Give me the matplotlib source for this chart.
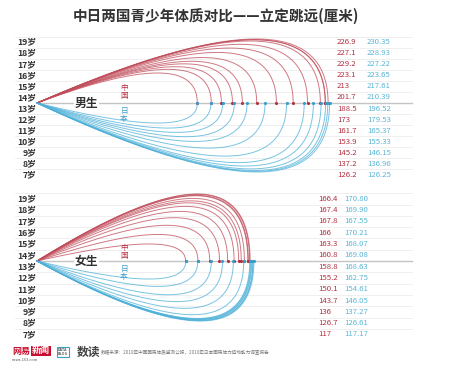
import numpy as np
import matplotlib.pyplot as plt

plt.rcParams['font.family'] = ['Noto Sans CJK SC', 'DejaVu Sans']

# 数据
ages = ['19岁', '18岁', '17岁', '16岁', '15岁', '14岁', '13岁',
        '12岁', '11岁', '10岁', '9岁', '8岁', '7岁']
boys_cn = [226.9, 227.1, 229.2, 223.1, 213, 201.7, 188.5, 173, 161.7, 153.9, 145.2, 137.2, 126.2]
boys_jp = [230.35, 228.93, 227.22, 223.65, 217.61, 210.39, 196.52, 179.53, 165.37, 155.33, 146.15, 136.96, 126.25]
girls_cn = [166.4, 167.4, 167.8, 166, 163.3, 160.8, 158.8, 155.2, 150.1, 143.7, 136, 126.7, 117]
girls_jp = [170.80, 169.90, 167.55, 170.21, 168.07, 169.08, 168.63, 162.75, 154.61, 146.05, 137.27, 126.61, 117.17]

title = '中日两国青少年体质对比——立定跳远(厘米)'
source = '数据来源：2010年中国国民体质监测公报，2010年日本国民体力运动能力调查报告'

RED = '#b3303f'
RED_ARC = '#c04c5a'
BLUE = '#3a9ecb'
BLUE_ARC = '#4cb0d8'

W, H = 456, 366
PX = 1.27          # 像素 / 厘米
X0 = 37            # 原点像素位置


def arc(v, h, sign):
    # 三次贝塞尔曲线: 原点 -> 数值点, 终点竖直落下
    t = np.linspace(0, 1, 80)
    x1, y1, y2 = 0.6, 1.19, 1.47
    xs = 3 * (1 - t) ** 2 * t * x1 + 3 * (1 - t) * t ** 2 + t ** 3
    ys = 3 * (1 - t) ** 2 * t * y1 + 3 * (1 - t) * t ** 2 * y2
    return xs * v, sign * ys * h


def panel(top, bottom, line_y, row_px, cn, jp, label, cn_rng, jp_rng,
          col_cn, col_jp, tag_y):
    ax = fig.add_axes([0, 1 - bottom / H, 1, (bottom - top) / H])
    ax.set_xlim(-X0 / PX, (W - X0) / PX)
    ax.set_ylim(-(bottom - line_y) / row_px, (line_y - top) / row_px)
    ax.axis('off')

    # 行分隔线
    for k in range(-6, 7):
        if k == 0:
            continue
        ax.plot([-22 / PX, 375 / PX], [k, k], color='#ececec', lw=0.6, zorder=0)
    ax.plot([0, 375 / PX], [0, 0], color='#c4c4c4', lw=1.0, zorder=1)

    for vals, rng, sign, col in [(cn, cn_rng, 1, RED_ARC), (jp, jp_rng, -1, BLUE_ARC)]:
        vmin, vmax = min(vals), max(vals)
        for v in vals:
            hp = rng[0] + (v - vmin) / (vmax - vmin) * (rng[1] - rng[0])
            xs, ys = arc(v, hp / row_px, sign)
            ax.plot(xs, ys, color=col, lw=0.7, alpha=0.75, zorder=2)

    ax.scatter(cn, np.zeros(len(cn)), s=5, color=RED, zorder=4, lw=0)
    ax.scatter(jp, np.zeros(len(jp)), s=5, color=BLUE, zorder=5, lw=0)

    for i, a in enumerate(ages):
        y = 6 - i - 0.5
        ax.text(-0.6, y, a, ha='right', va='center', fontsize=6.3,
                fontweight='bold', color='#333333')
        ax.text(col_cn, y, f'{cn[i]:g}', ha='left', va='center',
                fontsize=5.6, color=RED)
        ax.text(col_jp, y, f'{jp[i]:.2f}', ha='left', va='center',
                fontsize=5.6, color='#5ab6d6')

    ax.text(39, 0, label, ha='center', va='center', fontsize=8.5,
            fontweight='bold', color='#333333', zorder=6,
            bbox=dict(facecolor='white', edgecolor='none', pad=0.5))
    ax.text(68.5, tag_y[0], '中\n国', ha='center', va='center', fontsize=5.5,
            color=RED, linespacing=1.0, zorder=6)
    ax.text(68.5, tag_y[1], '日\n本', ha='center', va='center', fontsize=5.5,
            color='#3a9ecb', linespacing=1.0, zorder=6)
    return ax


fig = plt.figure(figsize=(W / 100, H / 100), dpi=100)

fig.text(216 / W, 1 - 16 / H, title, ha='center', va='center',
         fontsize=10.5, fontweight='bold', color='#333333')

panel(30, 185, 103, 11.08, boys_cn, boys_jp, '男生', (30, 64), (20, 69),
      (337 - X0) / PX, (367 - X0) / PX, (0.95, -1.04))
panel(188, 346, 261, 11.3, girls_cn, girls_jp, '女生', (17, 67), (18, 60),
      (318 - X0) / PX, (344 - X0) / PX, (0.84, -1.06))

# 底部标识
fig.text(12 / W, 1 - 351 / H, '网易', fontsize=6.5, fontweight='bold',
         color='#c8102e', va='center', ha='left')
fig.text(32 / W, 1 - 351 / H, '新闻', fontsize=6.5, fontweight='bold',
         color='white', va='center', ha='left',
         bbox=dict(facecolor='#c8102e', edgecolor='none', pad=0.6))
fig.text(12 / W, 1 - 360 / H, 'news.163.com', fontsize=2.8, color='#555555',
         va='center', ha='left')
fig.text(58 / W, 1 - 352 / H, 'DATA\nBLOG', fontsize=2.6, fontweight='bold',
         color='#555555', va='center', ha='left', linespacing=0.9,
         bbox=dict(facecolor='white', edgecolor='#3a9ecb', pad=0.8, lw=0.8))
fig.text(77 / W, 1 - 352 / H, '数读', fontsize=8.5, fontweight='bold',
         color='#444444', va='center', ha='left')
fig.text(101 / W, 1 - 353 / H, source, fontsize=3.3, color='#777777',
         va='center', ha='left')

fig.savefig('out.png', dpi=100, facecolor='white')
